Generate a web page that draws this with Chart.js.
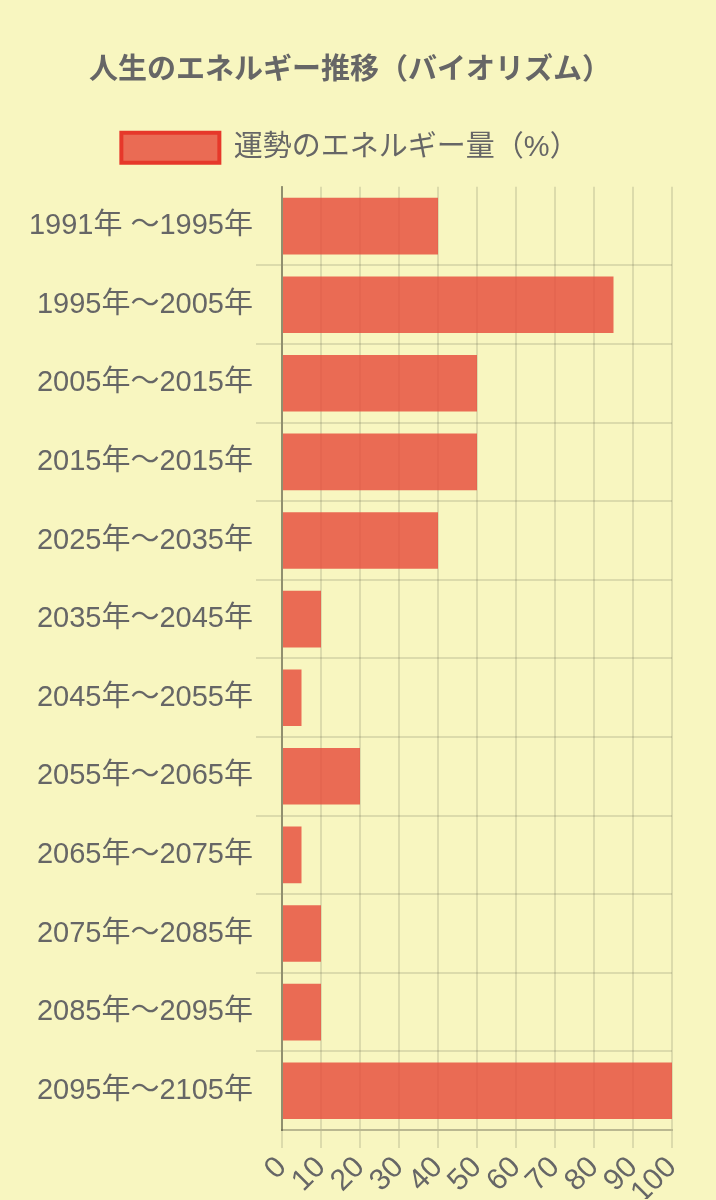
<!DOCTYPE html>
<html>
<head>
<meta charset="utf-8">
<script src="https://cdn.jsdelivr.net/npm/chart.js@4"></script>
<style>
  html, body { margin: 0; padding: 0; background: #f8f6c0; }
  #wrap { width: 716px; height: 1200px; }
</style>
</head>
<body>
<div id="wrap"><canvas id="lifeChart"></canvas></div>
<script>
const periods = [
  "1991年 〜1995年", "1995年〜2005年", "2005年〜2015年", "2015年〜2015年",
  "2025年〜2035年", "2035年〜2045年", "2045年〜2055年", "2055年〜2065年",
  "2065年〜2075年", "2075年〜2085年", "2085年〜2095年", "2095年〜2105年"
];
const energy = [40, 85, 50, 50, 40, 10, 5, 20, 5, 10, 10, 100];

const font = "'Liberation Sans', 'Noto Sans CJK JP', sans-serif";
const gridColor = "rgba(0,0,0,0.11)";

const ctx = document.getElementById("lifeChart").getContext("2d");

// a bit more room under the legend
const legendGap = {
  id: "legendGap",
  beforeInit(chart) {
    const fit = chart.legend.fit;
    chart.legend.fit = function () {
      fit.call(this);
      this.height += 14;
    };
  },
};

new Chart(ctx, {
  type: "bar",
  data: {
    labels: periods,
    datasets: [
      {
        label: "運勢のエネルギー量（%）",
        data: energy,
        backgroundColor: "rgba(231, 76, 60, 0.82)",
        borderWidth: 0,
      },
    ],
  },
  options: {
    indexAxis: "y",
    responsive: true,
    maintainAspectRatio: false,
    animation: false,
    layout: { padding: { top: 54, bottom: 1, left: 28, right: 44 } },
    plugins: {
      title: {
        display: true,
        text: "人生のエネルギー推移（バイオリズム）",
        color: "#666",
        font: { family: font, size: 29, weight: "bold" },
        padding: { top: 0, bottom: 34 },
      },
      legend: {
        labels: {
          color: "#666",
          boxWidth: 98,
          boxHeight: 30,
          font: { family: font, size: 29 },
          generateLabels: (chart) => {
            const items = Chart.defaults.plugins.legend.labels.generateLabels(chart);
            items.forEach((it) => {
              it.lineWidth = 4;
              it.strokeStyle = "#e6382a";
            });
            return items;
          },
        },
      },
      tooltip: { enabled: false },
    },
    scales: {
      x: {
        min: 0,
        max: 100,
        afterFit: (scale) => {
          scale.height = 69;
        },
        ticks: {
          stepSize: 10,
          autoSkip: false,
          minRotation: 45,
          maxRotation: 45,
          padding: 2,
          color: "#666",
          font: { family: font, size: 30 },
        },
        grid: { color: gridColor, lineWidth: 2, tickLength: 18 },
        border: { color: "rgba(0,0,0,0.25)", width: 2 },
      },
      y: {
        afterFit: (scale) => {
          scale.width = 254;
        },
        ticks: {
          color: "#666",
          font: { family: font, size: 29 },
        },
        grid: {
          // no lines on the outer edges, only between categories
          color: (c) => (c.type !== "tick" || c.index === 0 ? "transparent" : gridColor),
          lineWidth: 2,
          tickLength: 26,
        },
        border: { color: "rgba(0,0,0,0.35)", width: 2 },
      },
    },
  },
  plugins: [legendGap],
});
</script>
</body>
</html>
